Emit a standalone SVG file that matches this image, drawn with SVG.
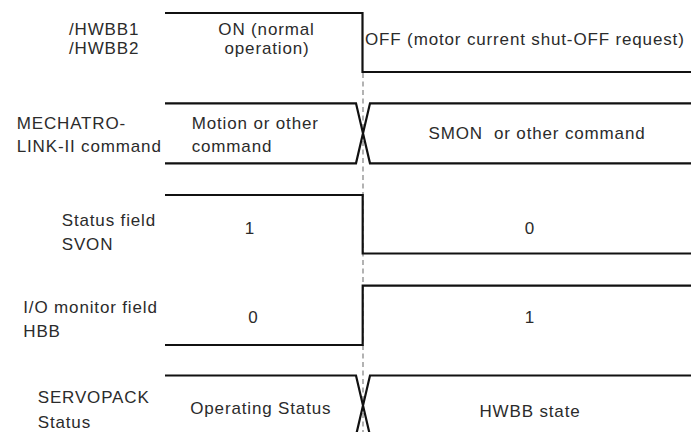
<svg xmlns="http://www.w3.org/2000/svg" width="691" height="432" viewBox="0 0 691 432">
<style>
text{font-family:"Liberation Sans",Arial,sans-serif;font-size:17px;letter-spacing:0.85px;fill:#2b2b2b}
.c{text-anchor:middle}
.w{fill:none;stroke:#111;stroke-width:2.2;stroke-linejoin:miter}
.g{fill:none;stroke:#8a8a8a;stroke-width:1.3;stroke-dasharray:5 3.5}
</style>
<rect width="691" height="432" fill="#fff"/>
<g id="connectors">
<line class="g" x1="363" y1="73" x2="363" y2="432"/>
</g>
<g id="hwbb">
<text x="69" y="35">/HWBB1</text>
<text x="69" y="54">/HWBB2</text>
<path class="w" d="M165 13H362.5V72H691"/>
<text class="c" x="266.5" y="35">ON (normal</text>
<text class="c" x="267" y="54">operation)</text>
<text x="365" y="44.5">OFF (motor current shut-OFF request)</text>
</g>
<g id="mechatrolink">
<text x="16.7" y="128.5">MECHATRO-</text>
<text x="16.7" y="152">LINK-II command</text>
<path class="w" d="M165 103.3H356L370 163.3H691M165 163.3H356L370 103.3H691"/>
<text x="191.7" y="129">Motion or other</text>
<text x="191.7" y="151.5">command</text>
<text class="c" x="537" y="139" xml:space="preserve" style="white-space:pre">SMON  or other command</text>
</g>
<g id="svon">
<text x="61.7" y="225.5">Status field</text>
<text x="61.7" y="250">SVON</text>
<path class="w" d="M165 195H362.7V253.5H691"/>
<text class="c" x="250" y="234">1</text>
<text class="c" x="530" y="234">0</text>
</g>
<g id="hbb">
<text x="23.3" y="313">I/O monitor field</text>
<text x="23.3" y="336.5">HBB</text>
<path class="w" d="M165 345H362.7V285.7H691"/>
<text class="c" x="253.3" y="322.7">0</text>
<text class="c" x="530" y="322.7">1</text>
</g>
<g id="servopack">
<text x="37.7" y="403.3">SERVOPACK</text>
<text x="37.7" y="427.7">Status</text>
<path class="w" d="M165 375.5H356L370 435.5H691M165 435.5H356L370 375.5H691"/>
<text class="c" x="260.8" y="413.5">Operating Status</text>
<text class="c" x="530" y="417.3">HWBB state</text>
</g>
</svg>
